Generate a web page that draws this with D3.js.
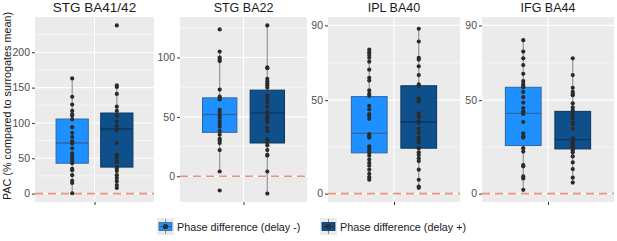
<!DOCTYPE html>
<html>
<head>
<meta charset="utf-8">
<script src="https://cdn.jsdelivr.net/npm/d3@7"></script>
<style>
  body { margin: 0; background: #fff; }
  svg { font-family: "Liberation Sans", Arial, sans-serif; }
</style>
</head>
<body>
<svg id="chart"></svg>
<script>
// regions (one panel each)
var regions = ["STG BA41/42", "STG BA22", "IPL BA40", "IFG BA44"];
var groups = ["Phase difference (delay -)", "Phase difference (delay +)"];

// individual PAC values, delay -
var delayMinus = [
  [163, 137, 126, 117, 112, 110, 105, 94, 86, 80, 74, 72, 71, 64, 57, 54, 50, 46, 43, 35, 33, 26, 18, 15, 0.5],
  [123.6, 105, 100, 98, 97, 73, 67, 66, 64.6, 56, 54, 51, 49, 46, 44, 41.6, 38, 35, 31.5, 30, 28, 22, 4, -12],
  [77, 75.6, 74.2, 72.7, 70.6, 66.3, 62, 60.5, 55.2, 53.4, 52.3, 46.9, 45, 42.6, 41.5, 40, 31.8, 30.7, 30,
   25.3, 23.9, 22.8, 21.8, 20.3, 18.2, 16.4, 14.9, 12.8, 10.6, 8.8, 7.4],
  [82.1, 76, 72.4, 68.8, 64.1, 60.2, 58.7, 57.7, 56.9, 54.4, 51.6, 48.7, 45.8, 44, 43.3, 42.6, 38.3, 32.2,
   30.7, 30, 24.3, 22.5, 15.3, 14.6, 9.2, 8.1, 2]
];
// individual PAC values, delay +
var delayPlus = [
  [238, 153, 151, 141, 123, 117, 110, 102, 96, 91.5, 89.5, 71.6, 55, 51, 46, 44, 37.5, 35.5, 32, 26, 22, 17.6, 12, 8],
  [127, 91.6, 91, 82, 80, 78, 76.4, 74.7, 68, 65, 62, 58.5, 54, 52, 49.5, 47.8, 45.5, 41, 38, 31, 28.7, 26,
   22, 18, 17.4, 4, -14.6],
  [88.2, 81.4, 72.7, 71.7, 68.1, 63.4, 58.4, 57.7, 50.9, 49.4, 42.9, 41.1, 38.6, 37.9, 34.7, 32.5, 30, 28.2,
   27.5, 24.3, 22.1, 20.7, 18.9, 17.4, 12.8, 7.4, 3.8, 3.1],
  [72.4, 63.4, 56.6, 54.4, 53.3, 52.6, 48.3, 46.2, 44.7, 43.6, 41.9, 40.1, 37.9, 37.2, 34.7, 29.6, 28.9,
   27.8, 26.4, 25.3, 24.3, 23.2, 22.1, 19.9, 16.7, 13.1, 8.5, 5.9]
];

// box statistics
var q1Minus = [43, 37, 21.8, 25.7];
var medMinus = [71.5, 52, 32.2, 42.9];
var q3Minus = [105.5, 66, 51.9, 56.9];
var q1Plus = [37.5, 28, 24.3, 23.9];
var medPlus = [91.5, 53.4, 38.3, 28.9];
var q3Plus = [114, 72.5, 57.7, 44];

// axis settings
var yBreaks = [[0, 50, 100, 150, 200], [0, 50, 100], [0, 50, 90], [0, 50, 90]];
var yMinor = [[25, 75, 125, 175, 225], [25, 75, 125], [25, 70], [25, 70]];
var yLimits = [null, null, [0, 90], [0, 90]];

var w = 617, h = 241;
var panelX = [[35, 154], [180, 307], [328, 460], [482, 614]];
var panelTop = 17, panelBottom = 202;
var fills = ["#1e90ff", "#0f4f8c"];
var strokes = ["#2f66a0", "#0b3660"];

var svg = d3.select("#chart").attr("width", w).attr("height", h);

regions.forEach(function(name, i) {
    var sets = [delayMinus[i], delayPlus[i]];
    var stats = [
        {q1: q1Minus[i], med: medMinus[i], q3: q3Minus[i]},
        {q1: q1Plus[i], med: medPlus[i], q3: q3Plus[i]}
    ];

    // y domain: data plus the zero line, 5% expansion (like ggplot)
    var lim = yLimits[i] || [
        Math.min(0, d3.min(sets, function(s) { return d3.min(s); })),
        d3.max(sets, function(s) { return d3.max(s); })
    ];
    var pad = (lim[1] - lim[0]) * 0.05;

    var x = d3.scaleLinear().domain([0.4, 1.6]).range(panelX[i]);
    var y = d3.scaleLinear().domain([lim[0] - pad, lim[1] + pad]).range([panelBottom, panelTop]);

    var g = svg.append("g");

    // panel background
    g.append("rect")
        .attr("x", panelX[i][0])
        .attr("y", panelTop)
        .attr("width", panelX[i][1] - panelX[i][0])
        .attr("height", panelBottom - panelTop)
        .style("fill", "#ebebeb");

    // grid
    g.selectAll(".minor")
        .data(yMinor[i])
        .enter()
        .append("line")
        .attr("x1", panelX[i][0]).attr("x2", panelX[i][1])
        .attr("y1", function(d) { return y(d); })
        .attr("y2", function(d) { return y(d); })
        .style("stroke", "#fff").style("stroke-width", 0.55);

    g.selectAll(".major")
        .data(yBreaks[i])
        .enter()
        .append("line")
        .attr("x1", panelX[i][0]).attr("x2", panelX[i][1])
        .attr("y1", function(d) { return y(d); })
        .attr("y2", function(d) { return y(d); })
        .style("stroke", "#fff").style("stroke-width", 1.1);

    g.append("line")
        .attr("x1", x(1)).attr("x2", x(1))
        .attr("y1", panelTop).attr("y2", panelBottom)
        .style("stroke", "#fff").style("stroke-width", 1.1);

    // zero reference line
    g.append("line")
        .attr("x1", panelX[i][0]).attr("x2", panelX[i][1])
        .attr("y1", y(0)).attr("y2", y(0))
        .style("stroke", "#f0907e")
        .style("stroke-width", 1.6)
        .style("stroke-dasharray", "8,5");

    sets.forEach(function(vals, k) {
        var s = stats[k];
        var iqr = s.q3 - s.q1;
        var hi = d3.max(vals.filter(function(v) { return v <= s.q3 + 1.5 * iqr; }));
        var lo = d3.min(vals.filter(function(v) { return v >= s.q1 - 1.5 * iqr; }));
        var cx = x(1 + (k === 0 ? -0.225 : 0.225));
        var half = (x(1.1625) - x(1));

        // whisker
        g.append("line")
            .attr("x1", cx).attr("x2", cx)
            .attr("y1", y(hi)).attr("y2", y(lo))
            .style("stroke", "#959595").style("stroke-width", 1.2);

        // box
        g.append("rect")
            .attr("x", cx - half)
            .attr("y", y(s.q3))
            .attr("width", half * 2)
            .attr("height", y(s.q1) - y(s.q3))
            .style("fill", fills[k])
            .style("stroke", strokes[k])
            .style("stroke-width", 1);

        g.append("line")
            .attr("x1", cx - half).attr("x2", cx + half)
            .attr("y1", y(s.med)).attr("y2", y(s.med))
            .style("stroke", strokes[k]).style("stroke-width", 1.4);

        // points
        g.selectAll(".pt" + k)
            .data(vals)
            .enter()
            .append("circle")
            .attr("cx", cx)
            .attr("cy", function(d) { return y(d); })
            .attr("r", 2.1)
            .style("fill", "#2b2b2b");
    });

    // axes
    var yAxis = d3.axisLeft(y).tickValues(yBreaks[i]).tickSize(3).tickPadding(2);
    var ya = g.append("g")
        .attr("transform", "translate(" + panelX[i][0] + ",0)")
        .call(yAxis);
    ya.select(".domain").remove();
    ya.selectAll("line").style("stroke", "#333");
    ya.selectAll("text").style("fill", "#4d4d4d").style("font-size", "10.5px")
        .style("font-family", "Liberation Sans, Arial, sans-serif");

    var xAxis = d3.axisBottom(x).tickValues([1]).tickFormat("").tickSize(3);
    var xa = g.append("g")
        .attr("transform", "translate(0," + panelBottom + ")")
        .call(xAxis);
    xa.select(".domain").remove();
    xa.selectAll("line").style("stroke", "#333");

    // title
    g.append("text")
        .attr("x", (panelX[i][0] + panelX[i][1]) / 2)
        .attr("y", 12)
        .attr("text-anchor", "middle")
        .style("font-size", i === 0 ? "13.5px" : "12.5px")
        .style("fill", "#1a1a1a")
        .text(name);
});

// y axis label
svg.append("text")
    .attr("transform", "translate(11,106) rotate(-90)")
    .attr("text-anchor", "middle")
    .style("font-size", "10.8px")
    .style("fill", "#1a1a1a")
    .text("PAC (% compared to surrogates mean)");

// legend
var keyX = [157, 320];
groups.forEach(function(name, k) {
    var lg = svg.append("g").attr("transform", "translate(" + keyX[k] + ",218)");
    lg.append("rect").attr("width", 17).attr("height", 17).style("fill", "#ebebeb");
    lg.append("line").attr("x1", 8.5).attr("x2", 8.5).attr("y1", 1).attr("y2", 16)
        .style("stroke", "#8a8a8a").style("stroke-width", 1);
    lg.append("rect").attr("x", 2).attr("y", 4.5).attr("width", 13).attr("height", 8)
        .style("fill", fills[k]).style("stroke", strokes[k]).style("stroke-width", 0.8);
    lg.append("line").attr("x1", 2).attr("x2", 15).attr("y1", 8.5).attr("y2", 8.5)
        .style("stroke", strokes[k]).style("stroke-width", 1);
    lg.append("circle").attr("cx", 8.5).attr("cy", 8.5).attr("r", 2.6).style("fill", "#2d2d2d");
    lg.append("text")
        .attr("x", 20)
        .attr("y", 12.5)
        .style("font-size", "10.8px")
        .style("fill", "#1a1a1a")
        .text(name);
});
</script>
</body>
</html>
